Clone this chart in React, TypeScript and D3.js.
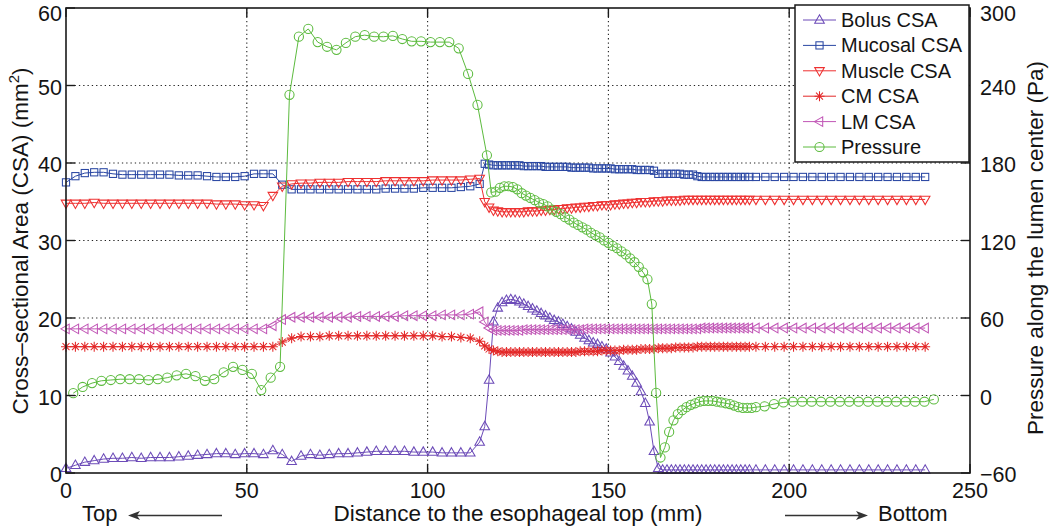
import React from 'react';
import * as d3 from 'd3';

const W = 1050;
const H = 527;

// Sampling grid along the esophagus (mm): coarse, dense (bolus region), coarse
const gridCSA = [
  ...d3.range(45).map(i => Math.round(i * 26) / 10),
  ...d3.range(62).map(i => Math.round(1158 + i * 12) / 10),
  ...d3.range(19).map(i => Math.round(1908 + i * 26) / 10),
];
const gridPressure = [
  ...d3.range(45).map(i => Math.round(20 + i * 26) / 10),
  ...d3.range(62).map(i => Math.round(1176 + i * 12) / 10),
  ...d3.range(19).map(i => Math.round(1932 + i * 26) / 10),
];

const bolusCSA = [
  0.6, 1.0, 1.4, 1.6, 1.8, 1.9, 1.9, 2.0, 1.9, 2.0,
  2.0, 2.0, 2.1, 2.2, 2.3, 2.4, 2.5, 2.5, 2.4, 2.5,
  2.5, 2.4, 2.9, 2.4, 1.5, 2.2, 2.4, 2.3, 2.4, 2.5,
  2.5, 2.6, 2.7, 2.8, 2.8, 2.8, 2.8, 2.7, 2.7, 2.7,
  2.6, 2.6, 2.6, 2.6, 4.0,
  6.0, 12.0, 19.5, 21.3, 22.0, 22.3, 22.4, 22.3, 22.1, 21.8,
  21.5, 21.2, 20.9, 20.6, 20.3, 20.0, 19.7, 19.5, 19.2, 18.9,
  18.6, 18.2, 17.8, 17.4, 17.1, 16.8, 16.6, 16.3, 16.0, 15.5,
  15.0, 14.4, 13.8, 13.2, 12.5, 11.6, 10.5, 9.0, 6.6, 2.8,
  0.6, 0.4, 0.4, 0.4, 0.4, 0.4, 0.4, 0.4, 0.4, 0.4,
  0.4, 0.4, 0.4, 0.4, 0.4, 0.4, 0.4, 0.4, 0.4, 0.4,
  0.4, 0.4,
  0.4, 0.4, 0.4, 0.4, 0.4, 0.4, 0.4, 0.4, 0.4, 0.4,
  0.4, 0.4, 0.4, 0.4, 0.4, 0.4, 0.4, 0.4, 0.4,
];

const mucosalCSA = [
  37.5, 38.3, 38.7, 38.8, 38.8, 38.6, 38.5, 38.5, 38.5, 38.5,
  38.5, 38.5, 38.4, 38.4, 38.4, 38.3, 38.2, 38.2, 38.2, 38.3,
  38.6, 38.6, 38.6, 37.2, 36.6, 36.6, 36.6, 36.6, 36.6, 36.6,
  36.6, 36.6, 36.6, 36.6, 36.7, 36.7, 36.7, 36.7, 36.8, 36.8,
  36.8, 36.8, 36.9, 37.0, 37.3,
  39.9, 39.8, 39.7, 39.7, 39.7, 39.7, 39.7, 39.7, 39.7, 39.6,
  39.6, 39.6, 39.6, 39.6, 39.5, 39.5, 39.5, 39.5, 39.5, 39.5,
  39.4, 39.4, 39.4, 39.4, 39.4, 39.3, 39.3, 39.3, 39.3, 39.3,
  39.2, 39.2, 39.2, 39.2, 39.2, 39.1, 39.1, 39.1, 39.1, 39.0,
  38.6, 38.6, 38.6, 38.6, 38.6, 38.6, 38.5, 38.5, 38.5, 38.3,
  38.2, 38.2, 38.2, 38.2, 38.2, 38.2, 38.2, 38.2, 38.2, 38.2,
  38.2, 38.2,
  38.2, 38.2, 38.2, 38.2, 38.2, 38.2, 38.2, 38.2, 38.2, 38.2,
  38.2, 38.2, 38.2, 38.2, 38.2, 38.2, 38.2, 38.2, 38.2,
];

const muscleCSA = [
  34.8, 34.8, 34.8, 34.9, 34.8, 34.8, 34.8, 34.8, 34.8, 34.8,
  34.8, 34.8, 34.8, 34.8, 34.8, 34.8, 34.7, 34.7, 34.7, 34.6,
  34.6, 34.5, 35.8, 37.0, 37.3, 37.4, 37.4, 37.5, 37.5, 37.5,
  37.6, 37.6, 37.6, 37.6, 37.7, 37.7, 37.7, 37.7, 37.7, 37.8,
  37.8, 37.8, 37.8, 37.9, 38.0,
  35.0, 34.3, 33.9, 33.8, 33.7, 33.7, 33.7, 33.7, 33.7, 33.7,
  33.8, 33.8, 33.8, 33.9, 33.9, 34.0, 34.0, 34.1, 34.1, 34.2,
  34.2, 34.3, 34.3, 34.4, 34.4, 34.5, 34.5, 34.6, 34.6, 34.6,
  34.7, 34.7, 34.8, 34.8, 34.9, 34.9, 35.0, 35.0, 35.0, 35.1,
  35.1, 35.1, 35.2, 35.2, 35.2, 35.2, 35.3, 35.3, 35.3, 35.3,
  35.3, 35.3, 35.3, 35.3, 35.3, 35.3, 35.3, 35.3, 35.3, 35.3,
  35.3, 35.3,
  35.3, 35.3, 35.3, 35.3, 35.3, 35.3, 35.3, 35.3, 35.3, 35.3,
  35.3, 35.3, 35.3, 35.3, 35.3, 35.3, 35.3, 35.3, 35.3,
];

const cmCSA = [
  16.3, 16.3, 16.3, 16.3, 16.3, 16.3, 16.3, 16.3, 16.3, 16.3,
  16.3, 16.3, 16.3, 16.3, 16.3, 16.3, 16.3, 16.3, 16.3, 16.3,
  16.3, 16.3, 16.3, 16.9, 17.4, 17.6, 17.6, 17.6, 17.7, 17.7,
  17.7, 17.7, 17.7, 17.7, 17.7, 17.7, 17.7, 17.7, 17.7, 17.7,
  17.6, 17.6, 17.5, 17.4, 17.0,
  16.4, 16.0, 15.8, 15.7, 15.6, 15.6, 15.6, 15.6, 15.6, 15.6,
  15.6, 15.6, 15.6, 15.6, 15.6, 15.6, 15.6, 15.6, 15.6, 15.6,
  15.6, 15.6, 15.7, 15.7, 15.7, 15.7, 15.7, 15.8, 15.8, 15.8,
  15.8, 15.8, 15.9, 15.9, 15.9, 15.9, 16.0, 16.0, 16.0, 16.0,
  16.1, 16.1, 16.1, 16.1, 16.2, 16.2, 16.2, 16.2, 16.2, 16.3,
  16.3, 16.3, 16.3, 16.3, 16.3, 16.3, 16.3, 16.3, 16.3, 16.3,
  16.3, 16.3,
  16.3, 16.3, 16.3, 16.3, 16.3, 16.3, 16.3, 16.3, 16.3, 16.3,
  16.3, 16.3, 16.3, 16.3, 16.3, 16.3, 16.3, 16.3, 16.3,
];

const lmCSA = [
  18.6, 18.6, 18.6, 18.6, 18.6, 18.6, 18.6, 18.6, 18.6, 18.6,
  18.6, 18.6, 18.6, 18.6, 18.6, 18.6, 18.6, 18.6, 18.6, 18.6,
  18.6, 18.6, 19.0, 19.8, 20.1, 20.1, 20.1, 20.1, 20.1, 20.1,
  20.1, 20.2, 20.2, 20.2, 20.2, 20.2, 20.3, 20.3, 20.3, 20.3,
  20.4, 20.4, 20.4, 20.5, 20.8,
  19.5, 18.7, 18.4, 18.4, 18.4, 18.4, 18.4, 18.4, 18.4, 18.5,
  18.5, 18.5, 18.5, 18.5, 18.5, 18.5, 18.5, 18.5, 18.5, 18.5,
  18.5, 18.5, 18.5, 18.6, 18.6, 18.6, 18.6, 18.6, 18.6, 18.6,
  18.6, 18.6, 18.6, 18.6, 18.6, 18.6, 18.6, 18.6, 18.6, 18.6,
  18.6, 18.6, 18.6, 18.6, 18.6, 18.6, 18.6, 18.6, 18.6, 18.6,
  18.7, 18.7, 18.7, 18.7, 18.7, 18.7, 18.7, 18.7, 18.7, 18.7,
  18.7, 18.7,
  18.7, 18.7, 18.7, 18.7, 18.7, 18.7, 18.7, 18.7, 18.7, 18.7,
  18.7, 18.7, 18.7, 18.7, 18.7, 18.7, 18.7, 18.7, 18.7,
];

// Pressure along the lumen center (Pa)
const pressurePa = [
  1.8, 6.6, 9.6, 11.4, 12, 12.6, 12.6, 12.6, 12, 12.6,
  13.8, 15.6, 16.8, 15, 11.4, 12.6, 18, 22.2, 19.8, 16.8,
  4.2, 13.8, 22.2, 232.8, 277.8, 283.8, 273.6, 270, 267.6, 273,
  277.8, 279, 277.8, 277.8, 278.4, 276, 274.2, 274.2, 273.6, 273.6,
  273.6, 268.8, 249, 225, 186,
  157.2, 157.8, 160.8, 162, 162, 161.4, 159.6, 156.6, 154.8, 153,
  151.2, 149.4, 148.2, 146.4, 144, 142.2, 140.4, 138, 136.2, 133.8,
  132, 130.2, 128.4, 126, 124.2, 122.4, 120, 118.2, 115.8, 114,
  111.6, 109.2, 106.2, 103.2, 99.6, 95.4, 90, 70.8, 2, -48,
  -40.2, -28.2, -19.2, -14.4, -11.4, -9, -7.2, -6, -4.8, -4.2,
  -4.2, -4.2, -4.8, -5.4, -6, -6.6, -7.8, -9, -9.6, -9.6,
  -9.6, -9,
  -8.4, -6.6, -5.4, -4.8, -4.8, -4.8, -4.8, -4.8, -4.8, -4.8,
  -4.8, -4.8, -4.8, -4.8, -4.8, -4.8, -4.8, -4.8, -3,
];

const xTicks = [0, 50, 100, 150, 200, 250];
const yLeftTicks = [0, 10, 20, 30, 40, 50, 60];
const yRightTicks = [-60, 0, 60, 120, 180, 240, 300];

type Marker = 'triUp' | 'square' | 'triDown' | 'star' | 'triLeft' | 'circle';

const series: { name: string; xs: number[]; ys: number[]; color: string; marker: Marker; axis: 'L' | 'R' }[] = [
  { name: 'Bolus CSA', xs: gridCSA, ys: bolusCSA, color: '#6c4bb8', marker: 'triUp', axis: 'L' },
  { name: 'Mucosal CSA', xs: gridCSA, ys: mucosalCSA, color: '#2a47a3', marker: 'square', axis: 'L' },
  { name: 'Muscle CSA', xs: gridCSA, ys: muscleCSA, color: '#ee3030', marker: 'triDown', axis: 'L' },
  { name: 'CM CSA', xs: gridCSA, ys: cmCSA, color: '#e32828', marker: 'star', axis: 'L' },
  { name: 'LM CSA', xs: gridCSA, ys: lmCSA, color: '#c156b6', marker: 'triLeft', axis: 'L' },
  { name: 'Pressure', xs: gridPressure, ys: pressurePa, color: '#5cbb3e', marker: 'circle', axis: 'R' },
];

const PL = 66, PR = 970, PT = 8, PB = 473;
const x = d3.scaleLinear().domain([0, 250]).range([PL, PR]);
const yL = d3.scaleLinear().domain([0, 60]).range([PB, PT]);
const yR = d3.scaleLinear().domain([-60, 300]).range([PB, PT]);

function MarkerShape({ m, cx, cy, color }: { m: Marker; cx: number; cy: number; color: string }) {
  const common = { fill: 'none', stroke: color, strokeWidth: 1.05 };
  const t = `translate(${cx},${cy})`;
  switch (m) {
    case 'circle':
      return <circle cx={cx} cy={cy} r={4.6} {...common} />;
    case 'square':
      return <rect x={cx - 3.6} y={cy - 3.6} width={7.2} height={7.2} {...common} />;
    case 'triUp':
      return <path transform={t} d="M0,-5.2L4.8,3.2L-4.8,3.2Z" {...common} />;
    case 'triDown':
      return <path transform={t} d="M0,5.2L4.8,-3.2L-4.8,-3.2Z" {...common} />;
    case 'triLeft':
      return <path transform={t} d="M-5.2,0L3.2,-4.8L3.2,4.8Z" {...common} />;
    case 'star':
      return (
        <path
          transform={t}
          d="M-5,0H5M0,-5V5M-3.5,-3.5L3.5,3.5M-3.5,3.5L3.5,-3.5"
          {...common}
        />
      );
  }
  return null;
}

const FONT = '"Liberation Sans", Arial, Helvetica, sans-serif';
const TXT = '#141414';

export default function App() {
  const legendY = [20, 45.4, 70.8, 96.2, 121.6, 147];
  return (
    <svg
      width={W}
      height={H}
      viewBox={`0 0 ${W} ${H}`}
      style={{ position: 'absolute', left: 0, top: 0, background: '#fff' }}
      fontFamily={FONT}
    >
      <rect x={0} y={0} width={W} height={H} fill="#fff" />
      {/* grid */}
      <g stroke="#222" strokeWidth={1.1} strokeDasharray="1.3,3">
        {xTicks.slice(1, -1).map(t => (
          <line key={'gx' + t} x1={x(t)} x2={x(t)} y1={PT} y2={PB} />
        ))}
        {yLeftTicks.slice(1, -1).map(t => (
          <line key={'gy' + t} x1={PL} x2={PR} y1={yL(t)} y2={yL(t)} />
        ))}
      </g>

      {/* series */}
      {series.map(s => {
        const ys = s.axis === 'L' ? yL : yR;
        const pts: [number, number][] = s.xs.map((xv, i) => [x(xv), ys(s.ys[i])]);
        const line = d3.line<[number, number]>().x(d => d[0]).y(d => d[1]);
        return (
          <g key={s.name}>
            <path d={line(pts) || ''} fill="none" stroke={s.color} strokeWidth={1} />
            {pts.map((p, i) => (
              <MarkerShape key={i} m={s.marker} cx={p[0]} cy={p[1]} color={s.color} />
            ))}
          </g>
        );
      })}

      {/* axes box and ticks */}
      <rect x={PL} y={PT} width={PR - PL} height={PB - PT} fill="none" stroke="#1a1a1a" strokeWidth={1.6} />
      <g stroke="#1a1a1a" strokeWidth={1.4}>
        {xTicks.map(t => (
          <g key={'tx' + t}>
            <line x1={x(t)} x2={x(t)} y1={PB} y2={PB - 9} />
            <line x1={x(t)} x2={x(t)} y1={PT} y2={PT + 9} />
          </g>
        ))}
        {yLeftTicks.map(t => (
          <line key={'tl' + t} x1={PL} x2={PL + 9} y1={yL(t)} y2={yL(t)} />
        ))}
        {yRightTicks.map(t => (
          <line key={'tr' + t} x1={PR} x2={PR - 9} y1={yR(t)} y2={yR(t)} />
        ))}
      </g>

      {/* tick labels */}
      <g fill={TXT} fontSize={21.5}>
        {xTicks.map(t => (
          <text key={'lx' + t} x={x(t)} y={498} textAnchor="middle">
            {t}
          </text>
        ))}
        {yLeftTicks.map(t => (
          <text key={'ll' + t} x={62} y={Math.max(yL(t) + 9, 21)} textAnchor="end">
            {t}
          </text>
        ))}
        {yRightTicks.map(t => (
          <text key={'lr' + t} x={980} y={Math.max(yR(t) + 9, 21)} textAnchor="start">
            {t < 0 ? '\u2212' + Math.abs(t) : t}
          </text>
        ))}
      </g>

      {/* axis titles */}
      <text x={518} y={521} textAnchor="middle" fontSize={22.5} fill={TXT}>
        Distance to the esophageal top (mm)
      </text>
      <text
        transform={`translate(28,241) rotate(-90)`}
        textAnchor="middle"
        fontSize={22.5}
        fill={TXT}
      >
        Cross–sectional Area (CSA) (mm
        <tspan dy={-9} fontSize={15}>2</tspan>
        <tspan dy={9}>)</tspan>
      </text>
      <text
        transform={`translate(1043,248) rotate(-90)`}
        textAnchor="middle"
        fontSize={22.5}
        fill={TXT}
      >
        Pressure along the lumen center (Pa)
      </text>

      {/* Top / Bottom direction hints */}
      <text x={82} y={521} fontSize={22} fill={TXT}>
        Top
      </text>
      <g stroke="#333" strokeWidth={1.4} fill="#333">
        <line x1={132} x2={222} y1={515.5} y2={515.5} />
        <path d="M128,515.5L140,511L137,515.5L140,520Z" stroke="none" />
        <line x1={785} x2={862} y1={515.5} y2={515.5} />
        <path d="M868,515.5L856,511L859,515.5L856,520Z" stroke="none" />
      </g>
      <text x={878} y={521} fontSize={22} fill={TXT}>
        Bottom
      </text>

      {/* legend */}
      <rect x={795} y={5} width={174} height={157} fill="#fff" stroke="#1a1a1a" strokeWidth={1.5} />
      {series.map((s, i) => (
        <g key={'lg' + s.name}>
          <line x1={803} x2={836} y1={legendY[i]} y2={legendY[i]} stroke={s.color} strokeWidth={1} />
          <MarkerShape m={s.marker} cx={819.5} cy={legendY[i]} color={s.color} />
          <text x={841} y={legendY[i] + 7} fontSize={20} fill={TXT}>
            {s.name}
          </text>
        </g>
      ))}
    </svg>
  );
}
